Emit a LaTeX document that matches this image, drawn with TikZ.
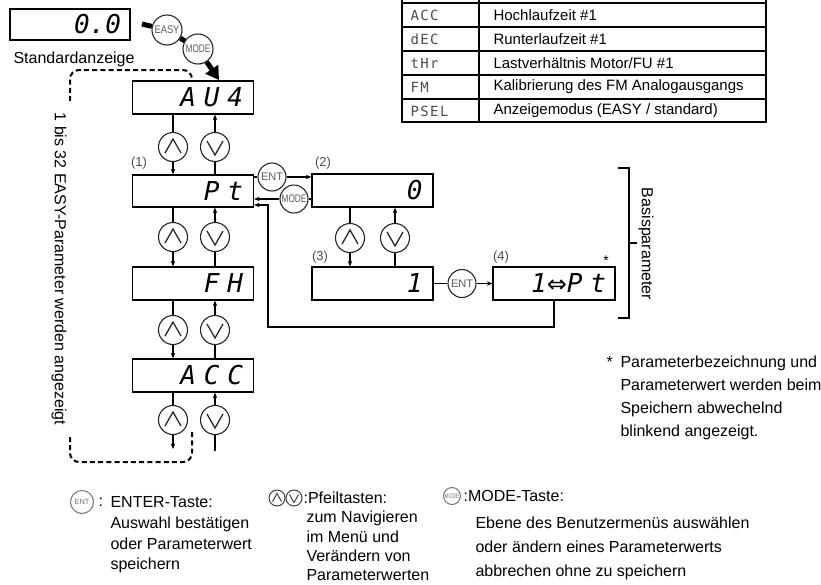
\documentclass[tikz,border=0pt]{standalone}
\usepackage{fontspec}
\setmainfont{Liberation Sans}
\newfontfamily\segfont[LetterSpace=30]{DejaVu Sans Mono}
\newfontfamily\stdsegfont{DejaVu Sans Mono}
\newfontfamily\tabsegfont[LetterSpace=10]{DejaVu Sans Mono}
\newfontfamily\symfont{DejaVu Sans}
\usepackage{graphicx}
\usetikzlibrary{arrows.meta}
\definecolor{keygray}{gray}{0.35}
\definecolor{linegray}{gray}{0.15}
\begin{document}
\begin{tikzpicture}[x=1pt,y=-1pt,
  >={Stealth[length=5.5pt,width=4.5pt]},
  line width=1.1pt,
  disp/.style={draw, line width=1.3pt, minimum width=121pt, minimum height=33pt, inner sep=0pt,
    text width=100pt, align=right, font={\segfont\itshape\fontsize{26}{26}\selectfont}},
  arrowkey/.style={circle, draw=linegray, line width=1.1pt, minimum size=29pt, inner sep=0pt, fill=white},
  upkey/.style={arrowkey, path picture={\draw[line width=1.3pt]
     ([shift={(-8,6)}]path picture bounding box.center) --
     ([shift={(0,-8)}]path picture bounding box.center) --
     ([shift={(8,6)}]path picture bounding box.center);}},
  downkey/.style={arrowkey, path picture={\draw[line width=1.3pt]
     ([shift={(-8,-6)}]path picture bounding box.center) --
     ([shift={(0,8)}]path picture bounding box.center) --
     ([shift={(8,-6)}]path picture bounding box.center);}},
  textkey/.style={circle, draw=linegray, line width=1.1pt, minimum size=28pt, inner sep=0pt, fill=white,
     text=keygray, font={\fontsize{11}{11}\selectfont}},
  legkey/.style={circle, draw=black!55, line width=1pt, minimum size=17pt, inner sep=0pt, fill=white,
     text=black!55, font={\fontsize{6.5}{6.5}\selectfont}},
  smallup/.style={circle, draw=black!75, line width=1pt, minimum size=16pt, inner sep=0pt,
     path picture={\draw[line width=1pt]
     ([shift={(-4.5,3.5)}]path picture bounding box.center) --
     ([shift={(0,-4.5)}]path picture bounding box.center) --
     ([shift={(4.5,3.5)}]path picture bounding box.center);}},
  smalldown/.style={circle, draw=black!75, line width=1pt, minimum size=16pt, inner sep=0pt,
     path picture={\draw[line width=1pt]
     ([shift={(-4.5,-3.5)}]path picture bounding box.center) --
     ([shift={(0,4.5)}]path picture bounding box.center) --
     ([shift={(4.5,-3.5)}]path picture bounding box.center);}},
  numlbl/.style={text=black!70, font={\fontsize{13}{13}\selectfont}, inner sep=0pt},
  txt/.style={font={\fontsize{16}{16}\selectfont}, inner sep=0pt, anchor=base west},
  tabtxt/.style={font={\fontsize{15}{15}\selectfont}, inner sep=0pt, anchor=west},
  tabseg/.style={font={\tabsegfont\fontsize{14}{14}\selectfont}, text=black!70, inner sep=0pt, anchor=west},
  loopdash/.style={line width=2pt, dash pattern=on 5pt off 3.2pt, rounded corners=9pt},
  thick arrow/.style={line width=5pt, black}
]
\useasboundingbox (0,0) rectangle (821,584);

% ---------------- table ----------------
\draw[line width=1.6pt] (402,0) -- (402,122) -- (766,122) -- (766,0);
\draw[line width=1.6pt] (479,0) -- (479,122);
\foreach \yy in {3,27,51,75,99} \draw[line width=1.6pt] (402,\yy) -- (766,\yy);
\node[tabseg] (t1a) at (410,15) {ACC};
\node[tabseg] (t2a) at (410,39) {dEC};
\node[tabseg] (t3a) at (410,63) {tHr};
\node[tabseg] (t4a) at (410,87) {FM};
\node[tabseg] (t5a) at (410,111) {PSEL};
\node[tabtxt] (t1b) at (493,15) {Hochlaufzeit \#1};
\node[tabtxt] (t2b) at (493,39) {Runterlaufzeit \#1};
\node[tabtxt] (t3b) at (493,63) {Lastverhältnis Motor/FU \#1};
\node[tabtxt] (t4b) at (493,87) {Kalibrierung des FM Analogausgangs};
\node[tabtxt] (t5b) at (493,111) {Anzeigemodus (EASY / standard)};

% ---------------- standard display ----------------
\node[disp, minimum width=120pt, minimum height=31pt, text width=102pt,
      font={\stdsegfont\itshape\fontsize{26}{26}\selectfont}] (std) at (70,24.5) {0.0};
\node[txt] (stdlbl) at (13,63) {Standardanzeige};

\node[textkey, minimum size=30pt] (easy) at (167,30) {\scalebox{0.85}[1]{EASY}};
\node[textkey, minimum size=30pt] (modet) at (198,49) {\scalebox{0.75}[1]{MODE}};
\coordinate (thstart) at (142,24);
\coordinate (thtip) at (219,80);
\draw[thick arrow] (thstart) -- (easy);
\draw[thick arrow] (easy) -- (modet);
\draw[thick arrow, -{Triangle[length=13pt,width=15pt]}] (modet) -- (thtip);

% ---------------- displays ----------------
\node[disp] (auv) at (193,97.5) {AU4};
\node[disp, minimum height=32pt] (pt) at (193,191) {Pt};
\node[disp] (fh) at (193,283.5) {FH};
\node[disp] (acc) at (193,375.5) {ACC};
\node[disp] (b2) at (372.5,190.5) {0};
\node[disp] (b3) at (372.5,283.5) {1};
\node[disp, minimum width=122pt, text width=104pt] (b4) at (554,283.5) {1{\symfont\fontsize{24}{24}\selectfont ⇔}Pt};

\node[numlbl] (n1) at (139,163) {(1)};
\node[numlbl] (n2) at (323,163) {(2)};
\node[numlbl] (n3) at (320,257) {(3)};
\node[numlbl] (n4) at (501,257) {(4)};
\node[font={\fontsize{14}{14}\selectfont}, inner sep=0pt] (ast) at (606,261) {*};

% ---------------- arrow keys, left column ----------------
\node[upkey] (u1) at (173,147) {};
\node[downkey] (d1) at (215,147) {};
\node[upkey] (u2) at (173,237) {};
\node[downkey] (d2) at (215,237) {};
\node[upkey] (u3) at (173,330) {};
\node[downkey] (d3) at (215,330) {};
\node[upkey] (u4) at (173,420) {};
\node[downkey] (d4) at (215,420) {};

\draw (auv.south -| u1) -- (u1); \draw[->] (u1) -- (pt.north -| u1);
\draw (pt.north -| d1) -- (d1); \draw[->] (d1) -- (auv.south -| d1);
\draw (pt.south -| u2) -- (u2); \draw[->] (u2) -- (fh.north -| u2);
\draw (fh.north -| d2) -- (d2); \draw[->] (d2) -- (pt.south -| d2);
\draw (fh.south -| u3) -- (u3); \draw[->] (u3) -- (acc.north -| u3);
\draw (acc.north -| d3) -- (d3); \draw[->] (d3) -- (fh.south -| d3);
\coordinate (u4end) at (173,449);
\coordinate (d4start) at (215,451);
\draw (acc.south -| u4) -- (u4); \draw[->] (u4) -- (u4end);
\draw (d4start) -- (d4); \draw[->] (d4) -- (acc.south -| d4);

% ---------------- parameter branch ----------------
\node[textkey] (ent1) at (272,177) {ENT};
\node[textkey] (mode1) at (294,199) {\scalebox{0.75}[1]{MODE}};
\draw (pt.east |- ent1) -- (ent1); \draw[->] (ent1) -- (b2.west |- ent1);
\draw (b2.west |- mode1) -- (mode1); \draw[->] (mode1) -- (pt.east |- mode1);

\node[upkey] (ua) at (350,238) {};
\node[downkey] (da) at (395,238) {};
\draw (b2.south -| ua) -- (ua); \draw[->] (ua) -- (b3.north -| ua);
\draw (b3.north -| da) -- (da); \draw[->] (da) -- (b2.south -| da);

\node[textkey] (ent2) at (462,283.5) {ENT};
\draw (b3.east) -- (ent2); \draw[->] (ent2) -- (b4.west);

\coordinate (retb) at (268,327);
\coordinate (retc) at (268,205);
\draw[->] (b4.south) |- (retb) -- (retc) -- (pt.east |- retc);

% ---------------- dashed loop ----------------
\coordinate (dl1) at (70,101);
\coordinate (dlc) at (192,70);
\draw[loopdash] (dl1) |- (dlc) -- (auv.north -| dlc);
\coordinate (bl1) at (70,437);
\coordinate (blc) at (192,462);
\coordinate (bl2) at (192,432);
\draw[loopdash] (bl1) |- (blc) -- (bl2);
\node[rotate=-90, font={\fontsize{16}{16}\selectfont}, inner sep=0pt] (vtext) at (59,269)
  {1 bis 32 EASY-Parameter werden angezeigt};

% ---------------- bracket ----------------
\coordinate (br1) at (618,168);
\coordinate (br2) at (629,168);
\coordinate (br3) at (629,318);
\coordinate (br4) at (618,318);
\coordinate (brm) at (629,243);
\coordinate (brn) at (637,243);
\draw[line width=1.2pt] (br1) -- (br2) -- (br3) -- (br4);
\draw[line width=1.2pt] (brm) -- (brn);
\node[rotate=-90, font={\fontsize{16}{16}\selectfont}, inner sep=0pt] (basis) at (646,244) {Basisparameter};

% ---------------- footnote ----------------
\node[txt] (fa) at (606,367) {*};
\node[txt] (f1) at (620,367) {Parameterbezeichnung und};
\node[txt] (f2) at (620,390) {Parameterwert werden beim};
\node[txt] (f3) at (620,413) {Speichern abwechelnd};
\node[txt] (f4) at (620,436) {blinkend angezeigt.};

% ---------------- legend ----------------
\node[legkey, minimum size=23pt, font={\fontsize{7.5}{7.5}\selectfont}] (lent) at (82,502) {ENT};
\node[txt] (lentc) at (98,506) {:};
\node[txt] (le1) at (110,507) {ENTER-Taste:};
\node[txt] (le2) at (110,528) {Auswahl bestätigen};
\node[txt] (le3) at (110,549) {oder Parameterwert};
\node[txt] (le4) at (110,569) {speichern};

\node[smallup] (lup) at (277,498) {};
\node[smalldown] (ldown) at (294,498) {};
\node[txt] (lp1) at (303,503) {:Pfeiltasten:};
\node[txt] (lp2) at (306,522) {zum Navigieren};
\node[txt] (lp3) at (306,542) {im Menü und};
\node[txt] (lp4) at (306,561) {Verändern von};
\node[txt] (lp5) at (306,580) {Parameterwerten};

\node[legkey] (lmode) at (452,496) {\scalebox{0.75}[1]{MODE}};
\node[txt] (lm1) at (463,501) {:MODE-Taste:};
\node[txt] (lm2) at (475,528) {Ebene des Benutzermenüs auswählen};
\node[txt] (lm3) at (475,552) {oder ändern eines Parameterwerts};
\node[txt] (lm4) at (475,576) {abbrechen ohne zu speichern};
\end{tikzpicture}
\end{document}
